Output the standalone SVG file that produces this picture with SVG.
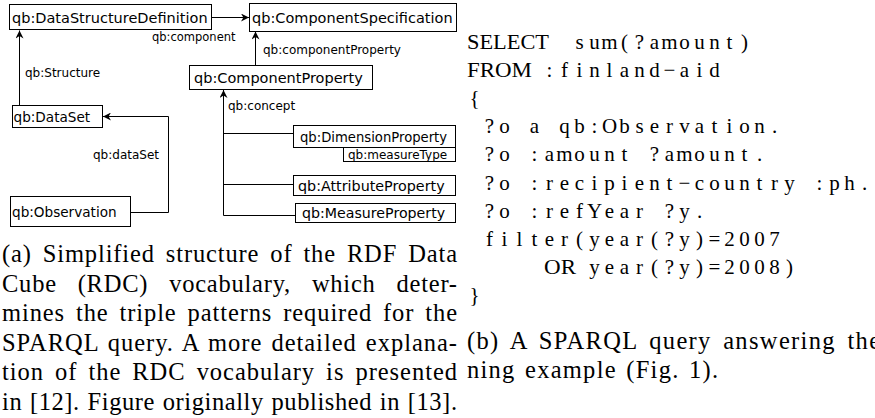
<svg xmlns="http://www.w3.org/2000/svg" width="875" height="418" viewBox="0 0 875 418">
<defs>
<style>
.box{fill:#fff;stroke:#000;stroke-width:1}
.lbl{font-family:"DejaVu Sans",sans-serif;font-size:14.5px;fill:#000}
.sm{font-family:"DejaVu Sans",sans-serif;font-size:12px;fill:#000}
.conn{fill:none;stroke:#000;stroke-width:1}
.cap{font-family:"Liberation Serif","Times New Roman",serif;font-size:24.5px;fill:#000}
.code{font-family:"Liberation Serif","Times New Roman",serif;font-size:21px;fill:#000;text-anchor:middle}
.kw{font-family:"Liberation Serif","Times New Roman",serif;font-size:21px;fill:#000}
</style>
<marker id="ah" viewBox="0 0 10 10" refX="10" refY="5" markerWidth="9" markerHeight="8" markerUnits="userSpaceOnUse" orient="auto">
<path d="M0,0 L10,5 L0,10 L3,5 z" fill="#000"/>
</marker>
</defs>

<g id="connectors">
<path class="conn" d="M211.5,17.5 H249" marker-end="url(#ah)"/>
<path class="conn" d="M19.5,105.5 V30.5" marker-end="url(#ah)"/>
<path class="conn" d="M130.5,212.5 H168.5 V116.5 H103" marker-end="url(#ah)"/>
<path class="conn" d="M255.5,65.5 V31.5" marker-end="url(#ah)"/>
<path class="conn" d="M223.5,215.5 V90" marker-end="url(#ah)"/>
<path class="conn" d="M223.5,133.5 H293.5 M223.5,184.5 H293.5 M223.5,215.5 H295.5"/>
<text class="sm" x="152" y="41" style="font-size:11.5px">qb:component</text>
<text class="sm" x="263" y="54">qb:componentProperty</text>
<text class="sm" x="25" y="77">qb:Structure</text>
<text class="sm" x="228" y="110">qb:concept</text>
<text class="sm" x="93" y="159">qb:dataSet</text>
</g>

<g id="dsd">
<rect class="box" x="9.5" y="4.5" width="202" height="25"/>
<text class="lbl" x="12" y="23">qb:DataStructureDefinition</text>
</g>
<g id="componentSpecification">
<rect class="box" x="249.5" y="3.5" width="207" height="28"/>
<text class="lbl" x="252" y="23">qb:ComponentSpecification</text>
</g>
<g id="componentProperty">
<rect class="box" x="189.5" y="65.5" width="183" height="24"/>
<text class="lbl" x="194" y="83">qb:ComponentProperty</text>
</g>
<g id="dataSet">
<rect class="box" x="12.5" y="105.5" width="90" height="22"/>
<text class="lbl" x="13.5" y="122" style="font-size:13.6px">qb:DataSet</text>
</g>
<g id="observation">
<rect class="box" x="10.5" y="196.5" width="120" height="30"/>
<text class="lbl" x="12" y="217" style="font-size:13.6px">qb:Observation</text>
</g>
<g id="dimensionProperty">
<rect class="box" x="293.5" y="125.5" width="162" height="22"/>
<text class="lbl" x="300" y="142" style="font-size:13.2px">qb:DimensionProperty</text>
<rect class="box" x="343.5" y="147.5" width="112" height="14"/>
<text class="sm" x="348" y="159">qb:measureType</text>
</g>
<g id="attributeProperty">
<rect class="box" x="293.5" y="175.5" width="162" height="20"/>
<text class="lbl" x="298" y="191" style="font-size:14.3px">qb:AttributeProperty</text>
</g>
<g id="measureProperty">
<rect class="box" x="295.5" y="203.5" width="160" height="19"/>
<text class="lbl" x="302" y="218" style="font-size:14.2px">qb:MeasureProperty</text>
</g>

<g id="caption-a">
<text class="cap" x="2" y="262" textLength="455" lengthAdjust="spacing" style="word-spacing:4px">(a) Simplified structure of the RDF Data</text>
<text class="cap" x="2" y="291.6" textLength="455" lengthAdjust="spacing" style="word-spacing:14px">Cube (RDC) vocabulary, which deter-</text>
<text class="cap" x="2" y="321.2" textLength="455" lengthAdjust="spacing" style="word-spacing:4px">mines the triple patterns required for the</text>
<text class="cap" x="2" y="350.8" textLength="455" lengthAdjust="spacing" style="word-spacing:2px">SPARQL query. A more detailed explana-</text>
<text class="cap" x="2" y="380.4" textLength="455" lengthAdjust="spacing" style="word-spacing:4px">tion of the RDC vocabulary is presented</text>
<text class="cap" x="2" y="410" textLength="455" lengthAdjust="spacing" style="word-spacing:1px">in [12]. Figure originally published in [13].</text>
</g>

<g id="sparql-query">
<text class="kw" x="467" y="49" textLength="82" lengthAdjust="spacingAndGlyphs">SELECT</text>
<text class="code" y="49" x="579.5 594.5 609.5 624.5 639.5 654.5 669.5 684.5 699.5 714.5 729.5 744.5">sum(?amount)</text>
<text class="kw" x="467" y="77.1" textLength="65" lengthAdjust="spacingAndGlyphs">FROM</text>
<text class="code" y="77.1" x="549.5 564.5 579.5 594.5 609.5 624.5 639.5 654.5 669.5 684.5 699.5 714.5">:finland−aid</text>
<text class="code" y="105.2" x="474.5">{</text>
<text class="code" y="133.3" x="489.5 504.5 519.5 534.5 549.5 564.5 579.5 594.5 609.5 624.5 639.5 654.5 669.5 684.5 699.5 714.5 729.5 744.5 759.5 774.5">?o a qb:Observation.</text>
<text class="code" y="161.4" x="489.5 504.5 519.5 534.5 549.5 564.5 579.5 594.5 609.5 624.5 639.5 654.5 669.5 684.5 699.5 714.5 729.5 744.5 759.5">?o :amount ?amount.</text>
<text class="code" y="189.5" x="489.5 504.5 519.5 534.5 549.5 564.5 579.5 594.5 609.5 624.5 639.5 654.5 669.5 684.5 699.5 714.5 729.5 744.5 759.5 774.5 789.5 804.5 819.5 834.5 849.5 864.5">?o :recipient−country :ph.</text>
<text class="code" y="217.6" x="489.5 504.5 519.5 534.5 549.5 564.5 579.5 594.5 609.5 624.5 639.5 654.5 669.5 684.5 699.5">?o :refYear ?y.</text>
<text class="code" y="245.7" x="489.5 504.5 519.5 534.5 549.5 564.5 579.5 594.5 609.5 624.5 639.5 654.5 669.5 684.5 699.5 714.5 729.5 744.5 759.5 774.5">filter(year(?y)=2007</text>
<text class="kw" x="544" y="273.8" textLength="32" lengthAdjust="spacingAndGlyphs">OR</text>
<text class="code" y="273.8" x="594.5 609.5 624.5 639.5 654.5 669.5 684.5 699.5 714.5 729.5 744.5 759.5 774.5 789.5">year(?y)=2008)</text>
<text class="code" y="301.9" x="474.5">}</text>
</g>

<g id="caption-b">
<text class="cap" x="467" y="349" textLength="413" lengthAdjust="spacing" style="word-spacing:4px">(b) A SPARQL query answering the</text>
<text class="cap" x="467" y="378" textLength="251" lengthAdjust="spacing" style="word-spacing:2px">ning example (Fig. 1).</text>
</g>
</svg>
